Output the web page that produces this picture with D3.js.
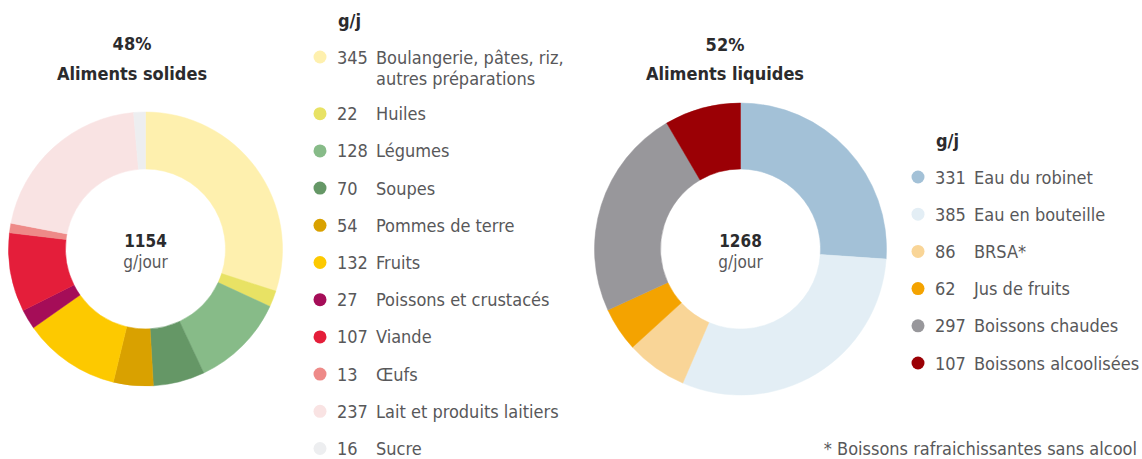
<!DOCTYPE html>
<html>
<head>
<meta charset="utf-8">
<script src="https://cdn.jsdelivr.net/npm/d3@7"></script>
<style>
  body { margin: 0; background: #fff; }
  svg { font-family: "Liberation Sans Narrow", "DejaVu Sans Condensed", "Roboto", sans-serif; }
  .title { font-weight: bold; fill: #2b2b2d; font-size: 18px; }
  .leg { fill: #58585a; font-size: 18px; }
  .head { font-weight: bold; fill: #2b2b2d; font-size: 18px; }
</style>
</head>
<body>
<svg width="1142" height="459"></svg>
<script>
// solides
var solidLabels = ["Boulangerie, pâtes, riz,|autres préparations", "Huiles", "Légumes", "Soupes", "Pommes de terre",
    "Fruits", "Poissons et crustacés", "Viande", "Œufs", "Lait et produits laitiers", "Sucre"];
var solidValues = [345, 22, 128, 70, 54, 132, 27, 107, 13, 237, 16];
var solidColors = ["#fef0ae", "#e8e264", "#87bb88", "#659766", "#d9a100", "#fdc900", "#a50d58", "#e41e3a", "#ee8a88", "#f9e3e3", "#edeef0"];

// liquides
var liquidLabels = ["Eau du robinet", "Eau en bouteille", "BRSA*", "Jus de fruits", "Boissons chaudes", "Boissons alcoolisées"];
var liquidValues = [331, 385, 86, 62, 297, 107];
var liquidColors = ["#a3c1d7", "#e3eef5", "#f9d597", "#f4a300", "#98979b", "#9b0005"];

var shares = ["48%", "52%"];
var titles = ["Aliments solides", "Aliments liquides"];
var totals = ["1154", "1268"];

var svg = d3.select("svg");

function donut(values, colors, cx, cy, rOut, rIn, total) {
    var pie = d3.pie().sort(null).value(d => d);
    var arc = d3.arc().innerRadius(rIn).outerRadius(rOut);
    var g = svg.append("g").attr("transform", `translate(${cx},${cy})`);
    g.selectAll("path")
        .data(pie(values))
        .enter().append("path")
        .attr("d", arc)
        .attr("fill", (d, i) => colors[i])
        .attr("stroke", (d, i) => colors[i])
        .attr("stroke-width", 0.5);
    g.append("text").attr("text-anchor", "middle").attr("y", -2)
        .style("font-weight", "bold").style("font-size", "17px").style("fill", "#2b2b2d")
        .text(total);
    g.append("text").attr("text-anchor", "middle").attr("y", 19)
        .style("font-size", "17px").style("fill", "#58585a")
        .text("g/jour");
}

function legend(labels, values, colors, x, y0, step, extraLine) {
    var g = svg.append("g");
    g.append("text").attr("class", "head").attr("x", x + 18).attr("y", y0 - 30).text("g/j");
    var yy = y0;
    labels.forEach(function(l, i) {
        var lines = l.split("|");
        var row = g.append("g").attr("transform", `translate(${x},${yy})`);
        row.append("circle").attr("r", 6.5).attr("cx", 0).attr("cy", 0).attr("fill", colors[i]);
        row.append("text").attr("class", "leg").attr("x", 17).attr("y", 6.5).text(values[i]);
        lines.forEach(function(t, j) {
            row.append("text").attr("class", "leg").attr("x", 56).attr("y", 6.5 + j * extraLine).text(t);
        });
        yy += step + (lines.length - 1) * (extraLine - 1.5);
    });
}

svg.append("text").attr("class", "title").attr("text-anchor", "middle").attr("x", 132).attr("y", 50).text(shares[0]);
svg.append("text").attr("class", "title").attr("text-anchor", "middle").attr("x", 132).attr("y", 80).text(titles[0]);
svg.append("text").attr("class", "title").attr("text-anchor", "middle").attr("x", 725).attr("y", 51).text(shares[1]);
svg.append("text").attr("class", "title").attr("text-anchor", "middle").attr("x", 725).attr("y", 80).text(titles[1]);

donut(solidValues, solidColors, 145.5, 249, 137, 80, totals[0]);
donut(liquidValues, liquidColors, 740.5, 249, 146, 80, totals[1]);

legend(solidLabels, solidValues, solidColors, 320, 57, 37.2, 21);
legend(liquidLabels, liquidValues, liquidColors, 918, 177, 37.2, 21);

svg.append("text").attr("class", "leg").attr("text-anchor", "end").attr("x", 1137).attr("y", 455)
    .text("* Boissons rafraichissantes sans alcool");
</script>
</body>
</html>
